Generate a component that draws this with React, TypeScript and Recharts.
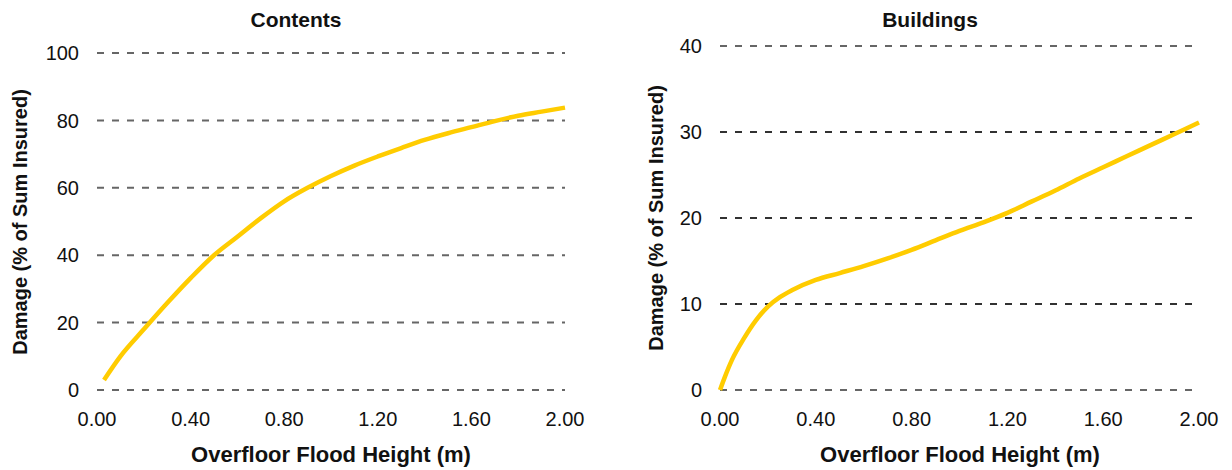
import React from 'react';
import { LineChart, Line, XAxis, YAxis, CartesianGrid, ReferenceLine } from 'recharts';

const contentsHeights = [0.03, 0.1, 0.2, 0.3, 0.4, 0.5, 0.6, 0.7, 0.8, 0.9, 1.0, 1.1, 1.2, 1.3, 1.4, 1.5, 1.6, 1.7, 1.8, 1.9, 2.0];
const contentsDamage = [3, 10, 18, 25.8, 33.2, 40, 45.5, 51, 56, 60, 63.5, 66.6, 69.3, 71.8, 74.2, 76.2, 78, 79.8, 81.4, 82.6, 83.8];

const buildingsHeights = [0, 0.02, 0.05, 0.1, 0.15, 0.2, 0.25, 0.3, 0.4, 0.5, 0.6, 0.7, 0.8, 0.9, 1.0, 1.1, 1.2, 1.3, 1.4, 1.5, 1.6, 1.7, 1.8, 1.9, 2.0];
const buildingsDamage = [0, 1.5, 3.5, 6, 8.1, 9.7, 10.8, 11.6, 12.8, 13.6, 14.4, 15.3, 16.3, 17.4, 18.5, 19.5, 20.6, 21.9, 23.2, 24.6, 25.9, 27.2, 28.5, 29.8, 31.1];

const xTicks = [0, 0.4, 0.8, 1.2, 1.6, 2.0];
const contentsYTicks = [0, 20, 40, 60, 80, 100];
const buildingsYTicks = [0, 10, 20, 30, 40];
const buildingsDarkGrid = [10, 20, 30];

const contentsTitle = 'Contents';
const buildingsTitle = 'Buildings';
const xTitle = 'Overfloor Flood Height (m)';
const yTitle = 'Damage (% of Sum Insured)';

const FONT = '"Liberation Sans", Arial, Helvetica, sans-serif';
const LINE_COLOR = '#FFCC00';
const GRID_COLOR = '#666666';

const contentsData = contentsHeights.map((h, i) => ({ h, v: contentsDamage[i] }));
const buildingsData = buildingsHeights.map((h, i) => ({ h, v: buildingsDamage[i] }));

const tickStyle = { fill: '#111', fontSize: 20, fontFamily: FONT };

function Panel(props: {
  data: { h: number; v: number }[];
  yTicks: number[];
  yMax: number;
  width: number;
  margin: { top: number; right: number; bottom: number; left: number };
  yWidth: number;
  dark?: number[];
}) {
  const { data, yTicks, yMax, width, margin, yWidth, dark } = props;
  return (
    <LineChart width={width} height={470} data={data} margin={margin}>
      <CartesianGrid vertical={false} stroke={GRID_COLOR} strokeDasharray="7 8" strokeWidth={2} horizontalValues={yTicks} />
      {(dark || []).map((d) => (
        <ReferenceLine key={d} y={d} stroke="#222222" strokeDasharray="7 8" strokeWidth={1.5} ifOverflow="extendDomain" />
      ))}
      <XAxis
        dataKey="h"
        type="number"
        domain={[0, 2]}
        ticks={xTicks}
        tickFormatter={(v: number) => v.toFixed(2)}
        axisLine={false}
        tickLine={false}
        tickMargin={16}
        height={60}
        tick={tickStyle}
        interval={0}
      />
      <YAxis
        type="number"
        domain={[0, yMax]}
        ticks={yTicks}
        axisLine={false}
        tickLine={false}
        tickMargin={12}
        width={yWidth}
        tick={tickStyle}
        interval={0}
      />
      <Line
        type="monotone"
        dataKey="v"
        stroke={LINE_COLOR}
        strokeWidth={4.5}
        dot={false}
        isAnimationActive={false}
      />
    </LineChart>
  );
}

const titleStyle: React.CSSProperties = {
  position: 'absolute',
  fontFamily: FONT,
  fontWeight: 'bold',
  color: '#111',
  whiteSpace: 'nowrap',
  transform: 'translate(-50%, -50%)',
  lineHeight: 1,
};

export default function App() {
  return (
    <div style={{ position: 'fixed', top: 0, left: 0, width: 1232, height: 470, background: '#fff', overflow: 'hidden' }}>
      <div style={{ position: 'absolute', left: 0, top: 0 }}>
        <Panel
          data={contentsData}
          yTicks={contentsYTicks}
          yMax={100}
          width={600}
          yWidth={57}
          margin={{ top: 53, right: 35, bottom: 20, left: 40 }}
        />
      </div>
      <div style={{ position: 'absolute', left: 620, top: 0 }}>
        <Panel
          data={buildingsData}
          yTicks={buildingsYTicks}
          yMax={40}
          width={612}
          yWidth={60}
          margin={{ top: 46, right: 33, bottom: 20, left: 40 }}
          dark={buildingsDarkGrid}
        />
      </div>
      <div style={{ ...titleStyle, left: 296, top: 19, fontSize: 21 }}>{contentsTitle}</div>
      <div style={{ ...titleStyle, left: 930, top: 19, fontSize: 21 }}>{buildingsTitle}</div>
      <div style={{ ...titleStyle, left: 331, top: 455, fontSize: 22 }}>{xTitle}</div>
      <div style={{ ...titleStyle, left: 960, top: 455, fontSize: 22 }}>{xTitle}</div>
      <div style={{ ...titleStyle, left: 20, top: 222, fontSize: 20, transform: 'translate(-50%, -50%) rotate(-90deg)' }}>{yTitle}</div>
      <div style={{ ...titleStyle, left: 656, top: 218, fontSize: 20, transform: 'translate(-50%, -50%) rotate(-90deg)' }}>{yTitle}</div>
    </div>
  );
}
